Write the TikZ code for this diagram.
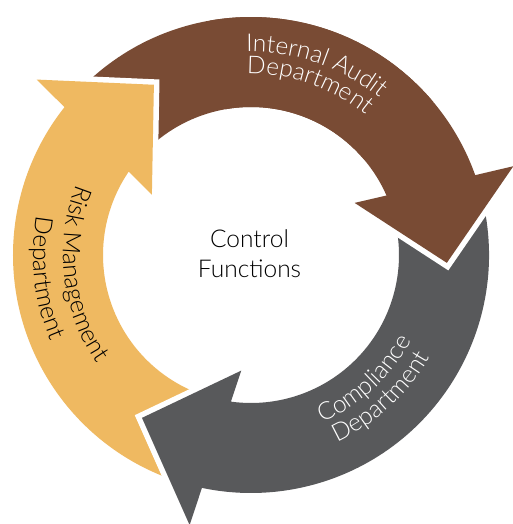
\documentclass[tikz,border=0pt]{standalone}
\usepackage{fontspec}
\setmainfont{Lato Light}
\usetikzlibrary{decorations.text}
\definecolor{audit}{RGB}{121,75,52}
\definecolor{compl}{RGB}{88,89,91}
\definecolor{risk}{RGB}{239,185,97}
\newcommand{\lblfont}{\fontsize{24.5}{29}\selectfont}
\tikzset{
  cyc/.style 2 args={insert path={(#1:238pt) arc[start angle=#1, end angle=#2+21.9, radius=238pt]
     -- (#2+21:277pt) -- (#2:196pt) -- (#2+29:116pt) -- (#2+26:148pt)
     arc[start angle=#2+26, end angle=#1, radius=148pt] -- cycle}},
  halo/.style={draw=white, fill=white, line width=11pt, line join=miter},
  curvetext/.style 2 args={decorate, decoration={text along path, text align=center,
     text color=#1, text={|\lblfont|#2}}},
  midtext/.style={font=\fontsize{24.5}{29}\selectfont, text=black, inner sep=0pt, anchor=base}
}
\begin{document}
\begin{tikzpicture}
\useasboundingbox (-251pt,-269pt) rectangle (262pt,255pt);
% Internal Audit (brown)
\path[halo, cyc={137.2}{-2.3}];
\fill[audit, cyc={137.2}{-2.3}];
% Risk Management (yellow)
\path[halo, cyc={254.0}{119.7}];
\fill[risk, cyc={254.0}{119.7}];
% Compliance (gray)
\path[halo, cyc={15.2}{-123.8}];
\fill[compl, cyc={15.2}{-123.8}];
% brown head back on top of the gray tail
\begin{scope}
  \clip (0pt,0pt) -- (-15:330pt) arc[start angle=-15, end angle=40, radius=330pt] -- cycle;
  \path[halo, cyc={137.2}{-2.3}];
\end{scope}
\begin{scope}
  \clip (0pt,0pt) -- (-15:330pt) arc[start angle=-15, end angle=100, radius=330pt] -- cycle;
  \fill[audit, cyc={137.2}{-2.3}];
\end{scope}
% curved labels
\path[curvetext={white}{Internal Audit}] (111:203pt) arc[start angle=111, end angle=31, radius=203pt];
\path[curvetext={white}{Department}] (111:181pt) arc[start angle=111, end angle=31, radius=181pt];
\path[curvetext={white}{Compliance}] (-95:182pt) arc[start angle=-95, end angle=0, radius=182pt];
\path[curvetext={white}{Department}] (-95:206pt) arc[start angle=-95, end angle=0, radius=206pt];
\path[curvetext={black}{Risk Management}] (140:188pt) arc[start angle=140, end angle=233, radius=188pt];
\path[curvetext={black}{Department}] (140:218pt) arc[start angle=140, end angle=233, radius=218pt];
% centre
\node[midtext] (ctrl) at (-1.5pt,7pt) {Control};
\node[midtext] (func) at (-1.5pt,-23pt) {Functions};
\end{tikzpicture}
\end{document}
